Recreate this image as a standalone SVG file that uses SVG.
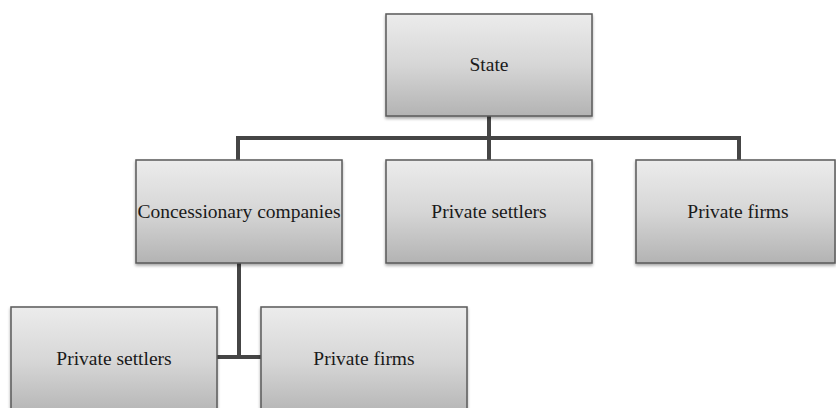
<svg xmlns="http://www.w3.org/2000/svg" width="836" height="408" viewBox="0 0 836 408">
<style>
.box{fill:url(#g);stroke:#5a5a5a;stroke-width:1.5;filter:url(#sh)}
.lbl{font-family:"Liberation Serif","Times New Roman",serif;font-size:19.5px;fill:#1a1a1a;text-anchor:middle}
.con{stroke:#454545;stroke-width:4;fill:none}
</style>
<defs>
<linearGradient id="g" x1="0" y1="0" x2="0" y2="1">
<stop offset="0" stop-color="#ececec"/>
<stop offset="0.5" stop-color="#d6d6d6"/>
<stop offset="1" stop-color="#b3b3b3"/>
</linearGradient>
<filter id="sh" x="-10%" y="-10%" width="120%" height="130%">
<feDropShadow dx="0" dy="2" stdDeviation="1.5" flood-color="#000" flood-opacity="0.35"/>
</filter>
</defs>
<g id="connectors">
<path class="con" d="M489 116V160M238 160V138H739V160"/>
<path class="con" d="M239 263V357M217 357H261"/>
</g>
<g id="state"><rect class="box" x="386" y="14" width="206" height="102"/><text class="lbl" x="489" y="71">State</text></g>
<g id="concessionary"><rect class="box" x="136" y="160" width="206" height="103"/><text class="lbl" x="239" y="218">Concessionary companies</text></g>
<g id="settlers1"><rect class="box" x="386" y="160" width="206" height="103"/><text class="lbl" x="489" y="218">Private settlers</text></g>
<g id="firms1"><rect class="box" x="636" y="160" width="199" height="103"/><text class="lbl" x="738" y="218">Private firms</text></g>
<g id="settlers2"><rect class="box" x="11" y="307" width="206" height="110"/><text class="lbl" x="114" y="365">Private settlers</text></g>
<g id="firms2"><rect class="box" x="261" y="307" width="206" height="110"/><text class="lbl" x="364" y="365">Private firms</text></g>
</svg>
